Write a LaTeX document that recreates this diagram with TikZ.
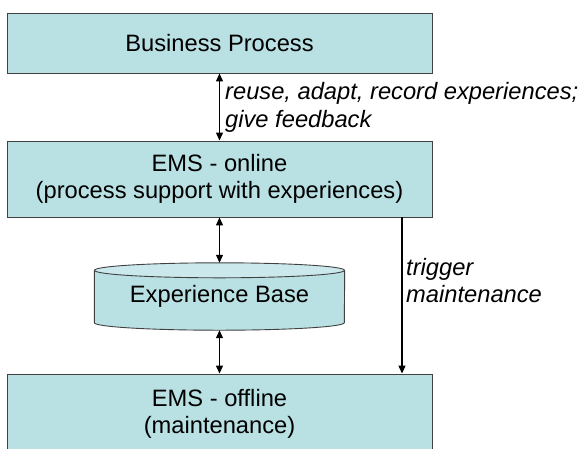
\documentclass[tikz,border=0pt]{standalone}
\usepackage{fontspec}
\setmainfont{Liberation Sans}
\usetikzlibrary{arrows.meta}
\pgfdeclarelayer{bg}
\pgfsetlayers{bg,main}
\definecolor{boxfill}{RGB}{185,224,227}
\definecolor{capfill}{RGB}{203,233,236}
\newcommand{\labelsize}{\fontsize{23.7}{27.3}\selectfont}
\tikzset{
  layer/.style={draw=black!75, line width=0.9pt, fill=boxfill,
    minimum width=425pt, inner sep=0pt, align=center},
  flow/.style={line width=1.2pt, -{Triangle[length=8pt,width=7pt]}},
  link/.style={line width=1.2pt,
    {Triangle[length=8pt,width=7pt]}-{Triangle[length=8pt,width=7pt]}},
  note/.style={anchor=north west, inner sep=0pt, align=left,
    font=\labelsize\itshape}
}

\begin{document}
\begin{tikzpicture}[x=1pt, y=1pt, font=\labelsize]
        \useasboundingbox (0,0) rectangle (585,-448);
        \clip (0,0) rectangle (585,-448);
        \node (s0) [layer, minimum height=60pt] at (219.5,-43) {Business Process};
        \node (s1) [layer, minimum height=76pt] at (219.5,-179) {EMS - online\\(process support with experiences)};
        \node (s2) [minimum width=250pt, minimum height=67pt, inner sep=0pt] at (219.5,-296.5) {Experience Base};
        \node (s3) [layer, minimum height=80pt] at (219.5,-414) {EMS - offline\\(maintenance)};
        \node (l0) [note] at (225,-82.5) {reuse, adapt, record experiences;\\give feedback};
        \node (l1) [note] at (406,-258) {trigger\\maintenance};
        \coordinate (t0) at (402,0);
        \begin{pgfonlayer}{bg}
                % database drum behind its label
                \filldraw[fill=boxfill, draw=black!75, line width=0.9pt]
                  ([yshift=-7.5pt]s2.north west) -- ([yshift=7.5pt]s2.south west)
                  arc[start angle=180, end angle=360, x radius=125pt, y radius=7.5pt]
                  -- ([yshift=-7.5pt]s2.north east);
                \filldraw[fill=capfill, draw=black!75, line width=0.9pt]
                  ([yshift=-7.5pt]s2.north) ellipse[x radius=125pt, y radius=7.5pt];
        \end{pgfonlayer}
        \draw (s0) edge [link] (s1);
        \draw (s1) edge [link] (s2);
        \draw (s2) edge [link] (s3);
        \draw [flow] (s1.south -| t0) -- (s3.north -| t0);
\end{tikzpicture}
\end{document}
